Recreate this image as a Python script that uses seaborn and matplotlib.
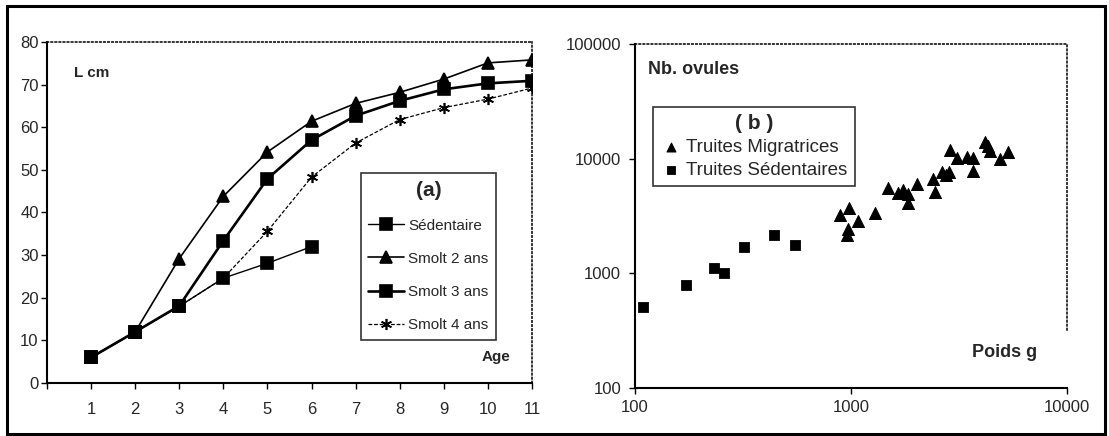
import numpy as np
import pandas as pd
import seaborn as sns
import matplotlib.pyplot as plt
from matplotlib.patches import Rectangle

# (a) longueur selon l'age
ages = [1, 2, 3, 4, 5, 6, 7, 8, 9, 10, 11]
sedentaire = [6, 12, 18, 24.6, 28.1, 32]
smolt2 = [6, 12, 29.2, 43.8, 54.2, 61.4, 65.6, 68.2, 71.3, 75.1, 75.8]
smolt3 = [6, 12, 18.1, 33.4, 47.9, 57, 62.7, 66.2, 68.9, 70.3, 70.9]
smolt4 = [6, 12, 18, 24.6, 35.6, 48.3, 56.3, 61.8, 64.6, 66.6, 69.2]

# (b) nombre d'ovules selon le poids
sed_poids = [109, 172, 231, 258, 320, 441, 548]
sed_ovules = [502, 787, 1114, 1007, 1683, 2153, 1739]
mig_poids = [890, 980, 1077, 968, 958, 1291, 1483, 1650, 1741, 1837, 1837,
             2022, 2399, 2450, 2638, 2843, 2872, 3097, 3444, 3673, 3673,
             4169, 4403, 4898, 5333, 2750, 4300]
mig_ovules = [3190, 3680, 2830, 2405, 2130, 3325, 5500, 4975, 5290, 4880, 4065,
              5970, 6600, 5080, 7610, 7610, 11850, 10090, 10300, 10090, 7760,
              13950, 11640, 9890, 11400, 7200, 12800]

sns.set_style("ticks")
plt.rcParams['font.family'] = ['Liberation Sans', 'DejaVu Sans']

W, H = 1109, 436
fig = plt.figure(figsize=(W / 100, H / 100), dpi=100)
ax1 = fig.add_axes([47 / W, (H - 383) / H, 485 / W, 341 / H])
ax2 = fig.add_axes([635 / W, (H - 387.5) / H, 432 / W, 343.5 / H])

# ---- panel (a)
series = [
    ('Sédentaire', sedentaire, 's', 1.0, '-'),
    ('Smolt 2 ans', smolt2, '^', 1.2, '-'),
    ('Smolt 3 ans', smolt3, 's', 1.9, '-'),
    ('Smolt 4 ans', smolt4, (6, 2, 0), 0.9, (0, (3, 1.5))),
]
for name, vals, mk, lw, ls in series:
    sns.lineplot(x=ages[:len(vals)], y=vals, ax=ax1, color='k', marker=mk,
                 markersize=8, markeredgecolor='k', markeredgewidth=1.2,
                 linewidth=lw, linestyle=ls, label=name)

ax1.set_xlim(0, 11)
ax1.set_ylim(0, 80)
ax1.set_xticks(range(0, 12))
ax1.set_xticklabels([''] + [str(a) for a in ages])
ax1.set_yticks(range(0, 81, 10))
ax1.tick_params(axis='x', labelsize=12, length=4, width=1, pad=10, color='k')
ax1.tick_params(axis='y', labelsize=12, length=4, width=1, pad=2, color='k')
ax1.set_xlabel('')
ax1.set_ylabel('')
ax1.text(0.055, 0.91, 'L cm', transform=ax1.transAxes, fontsize=11,
         fontweight='bold', va='center')
ax1.text(0.926, 0.075, 'Age', transform=ax1.transAxes, fontsize=11,
         fontweight='bold', va='center', ha='center')

leg1 = ax1.legend(loc='upper left', bbox_to_anchor=(0.647, 0.616),
                  title='(a)', fontsize=11, frameon=True, fancybox=False,
                  edgecolor='k', labelspacing=1.25, handlelength=2.3,
                  handletextpad=0.3, borderpad=0.5, borderaxespad=0)
leg1.get_title().set_fontsize(15)
leg1.get_title().set_fontweight('bold')
leg1.get_frame().set_linewidth(1.2)

# ---- panel (b)
sns.scatterplot(x=mig_poids, y=mig_ovules, ax=ax2, marker='^', color='k',
                edgecolor='k', s=75, label='Truites Migratrices')
sns.scatterplot(x=sed_poids, y=sed_ovules, ax=ax2, marker='s', color='k',
                edgecolor='k', s=55, label='Truites Sédentaires')
ax2.set_xscale('log')
ax2.set_yscale('log')
ax2.set_xlim(100, 10000)
ax2.set_ylim(100, 100000)
ax2.set_xticks([100, 1000, 10000])
ax2.set_xticklabels(['100', '1000', '10000'])
ax2.set_yticks([100, 1000, 10000, 100000])
ax2.set_yticklabels(['100', '1000', '10000', '100000'])
ax2.minorticks_off()
ax2.tick_params(axis='x', labelsize=12, length=4, width=1, pad=5, color='k')
ax2.tick_params(axis='y', labelsize=12, length=4, width=1, pad=6, color='k')
ax2.set_xlabel('')
ax2.set_ylabel('')
ax2.text(0.03, 0.925, 'Nb. ovules', transform=ax2.transAxes, fontsize=13,
         fontweight='bold', va='center')
ax2.text(0.78, 0.103, 'Poids g', transform=ax2.transAxes, fontsize=13,
         fontweight='bold', va='center')

leg2 = ax2.legend(loc='upper left', bbox_to_anchor=(0.042, 0.817),
                  title='( b )', fontsize=13.5, frameon=True, fancybox=False,
                  edgecolor='k', labelspacing=0.3, handlelength=1.1,
                  handletextpad=0.25, borderpad=0.4, borderaxespad=0,
                  markerscale=0.75)
leg2.get_title().set_fontsize(15)
leg2.get_title().set_fontweight('bold')
leg2.get_frame().set_linewidth(1.2)

for ax in (ax1, ax2):
    ax.spines['left'].set_linewidth(1.5)
    ax.spines['bottom'].set_linewidth(1.5)
    ax.spines['left'].set_color('k')
    ax.spines['bottom'].set_color('k')
    for side in ('top', 'right'):
        ax.spines[side].set_visible(True)
        ax.spines[side].set_linestyle(':')
        ax.spines[side].set_linewidth(1.1)
        ax.spines[side].set_color('k')
ax2.spines['right'].set_bounds(320, 100000)

# outer frame of the figure
fig.patches.append(Rectangle((7 / W, 2 / H), 1098 / W, 428 / H,
                             transform=fig.transFigure, fill=False,
                             edgecolor='k', linewidth=2.2))

fig.savefig('out.png', dpi=100)
